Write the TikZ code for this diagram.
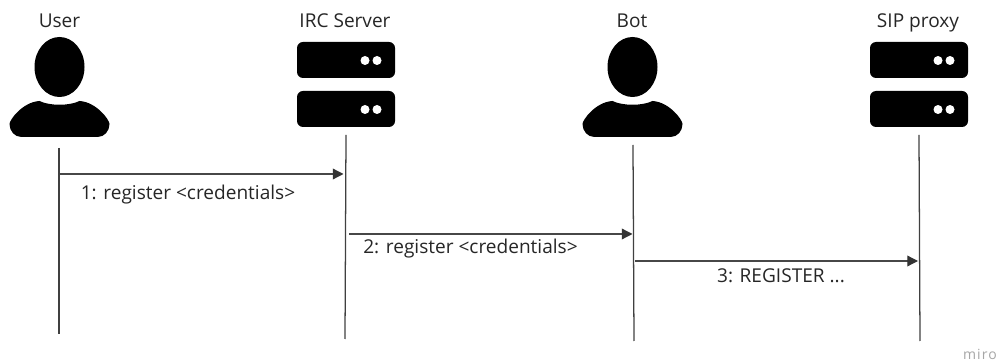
\documentclass[tikz,border=0pt]{standalone}
\usepackage{fontspec}
\setmainfont{Open Sans}
\usetikzlibrary{arrows.meta}
\tikzset{
  lifeline/.style={draw=black!75,line width=0.95pt},
  msg/.style={draw=black!72,line width=0.95pt,-{Triangle[length=8pt,width=8pt,color=black!80]}},
  lbl/.style={inner sep=0pt,text=black!85,font=\fontsize{14.3pt}{17pt}\selectfont,anchor=base},
  icon/.style={fill=black,draw=none},
  slot/.style={rounded corners=4.5pt},
  dot/.style={fill=white,draw=none},
}
\newcommand{\personicon}[1]{%
  \begin{scope}[shift={(#1,0)}]
    \fill[icon] (0,67) ellipse [x radius=25,y radius=30];
    \fill[icon] (-50,124) .. controls (-50,120) and (-37,102) .. (-20,101)
      .. controls (-10,106) and (10,106) .. (20,101)
      .. controls (37,102) and (50,120) .. (50,124)
      .. controls (50,131) and (45,137) .. (38,137)
      -- (-38,137) .. controls (-45,137) and (-50,131) .. (-50,124) -- cycle;
  \end{scope}}
\newcommand{\servericon}[1]{%
  \begin{scope}[shift={(#1,0)}]
    \fill[icon,slot] (-49,42) rectangle (49,78);
    \fill[icon,slot] (-49,91) rectangle (49,127);
    \fill[dot] (19,60.5) circle (4.5);
    \fill[dot] (31,60.5) circle (4.5);
    \fill[dot] (19,109.5) circle (4.5);
    \fill[dot] (31,109.5) circle (4.5);
  \end{scope}}
\begin{document}
\begin{tikzpicture}[x=0.75pt,y=-0.75pt]
\useasboundingbox (0,0) rectangle (1000,363);
\personicon{59.5}
\servericon{346}
\personicon{632.5}
\servericon{919}
\node[lbl] (tuser) at (59.5,27.5) {User};
\node[lbl] (tirc) at (345,27.5) {IRC Server};
\node[lbl] (tbot) at (632,27.5) {Bot};
\node[lbl] (tsip) at (918,27.5) {SIP proxy};
\coordinate (ua) at (59,148); \coordinate (ub) at (59,334);
\coordinate (ia) at (346,135); \coordinate (ib) at (345,339);
\coordinate (ba) at (633,145); \coordinate (bb) at (634,341);
\coordinate (sa) at (919,135); \coordinate (sb) at (920,341);
\draw[lifeline] (ua) -- (ub);
\draw[lifeline] (ia) -- (ib);
\draw[lifeline] (ba) -- (bb);
\draw[lifeline] (sa) -- (sb);
\coordinate (m1a) at (60,174); \coordinate (m1b) at (343.5,174);
\coordinate (m2a) at (349,234); \coordinate (m2b) at (632.5,234);
\coordinate (m3a) at (635,261); \coordinate (m3b) at (918,261);
\draw[msg] (m1a) -- (m1b);
\draw[msg] (m2a) -- (m2b);
\draw[msg] (m3a) -- (m3b);
\node[lbl] (l1) at (188,199.5) {1: register <credentials>};
\node[lbl] (l2) at (470.5,253.5) {2: register <credentials>};
\node[lbl] (l3) at (781,282.5) {3: REGISTER ...};
\node[inner sep=0pt,anchor=base,text=black!35,font=\fontsize{10.5pt}{12pt}\selectfont,text depth=0pt] (miro) at (980,359) {\addfontfeature{LetterSpace=8}miro};
\end{tikzpicture}
\end{document}
